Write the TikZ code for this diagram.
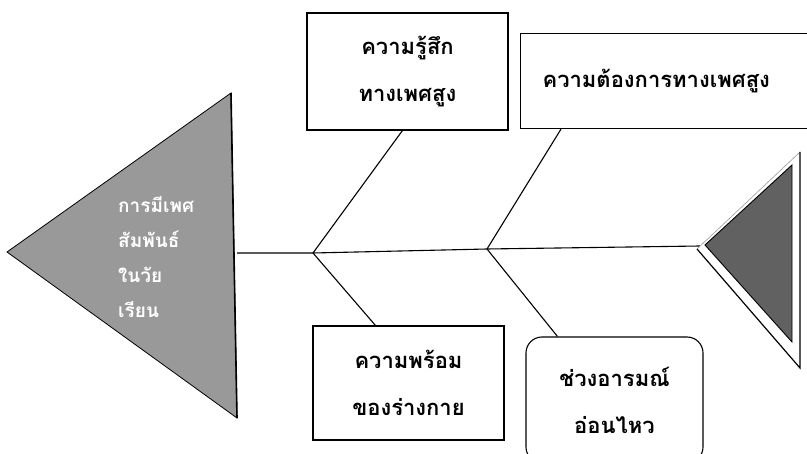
\documentclass[tikz,border=0pt]{standalone}
\usepackage{fontspec}
\newfontfamily\thaifont[Script=Thai]{Loma}
\usetikzlibrary{calc}
\begin{document}
\begin{tikzpicture}[x=1pt,y=-1pt,
  ln/.style={line width=1.1pt},
  box/.style={draw, line width=1.1pt, inner sep=0pt, align=center,
    font=\thaifont\bfseries\fontsize{22}{47}\selectfont},
  headtext/.style={text=white, align=left, anchor=west, inner sep=0pt,
    font=\thaifont\bfseries\fontsize{19}{35}\selectfont}
]
\clip (0,0) rectangle (807,454);
\fill[white] (0,0) rectangle (807,454);
% left head
\path[fill=black!40, draw=black, line width=0.8pt] (231,93) -- (7,252) -- (237,418) -- cycle;
\draw[line width=1.6pt] (231,93) -- (237,418);
\node[headtext] (head) at (118,257) {การมีเพศ\\สัมพันธ์\\ในวัย\\เรียน};
% spine
\coordinate (j0) at (237,253);
\coordinate (j1) at (313,253);
\coordinate (j2) at (487,249);
\coordinate (j3) at (700,246);
\draw[ln] (j0) -- (j1) -- (j2) -- (j3);
% boxes
\node[box, minimum width=201, minimum height=117] (b1) at (407.5,71.5) {ความรู้สึก\\ทางเพศสูง};
\node[box, anchor=north west, text width=280, inner xsep=22, minimum height=95, align=left] (b2) at (520,33) {ความต้องการทางเพศสูง};
\node[box, minimum width=191, minimum height=114] (b3) at (408.5,383) {ความพร้อม\\ของร่างกาย};
\node[box, rounded corners=16pt, minimum width=177, minimum height=126] (b4) at (614.5,400) {ช่วงอารมณ์\\อ่อนไหว};
% branches
\draw[ln] (j1) -- ($(b1.south west)+(96,0)$);
\draw[ln] (j2) -- ($(b2.south west)+(41,0)$);
\draw[ln] (j1) -- ($(b3.north west)+(63,0)$);
\draw[ln] (j2) -- ($(b4.north west)+(32,0)$);
% right head
\fill[white] (697,249) -- (800,152) -- (800,368) -- cycle;
\draw[black!40, line width=0.6pt] (697,249) -- (800,152);
\draw[line width=1.2pt] (800,152) -- (800,368) -- (697,249);
\path[fill=black!62, draw=black, line width=0.9pt] (705,245) -- (792,165) -- (792,342) -- cycle;
\end{tikzpicture}
\end{document}
